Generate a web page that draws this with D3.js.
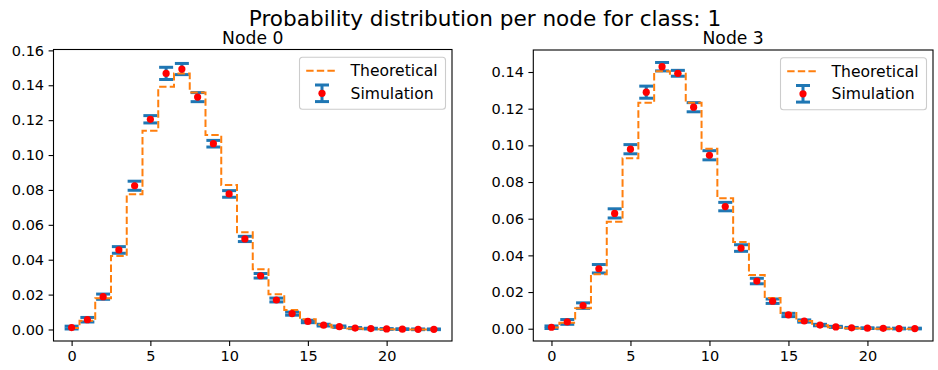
<!DOCTYPE html>
<html>
<head>
<meta charset="utf-8">
<script src="https://cdn.jsdelivr.net/npm/d3@7"></script>
<style>
  body { margin: 0; background: #fff; }
  svg { display: block; font-family: "DejaVu Sans", sans-serif; }
</style>
</head>
<body>
<div id="chart"></div>
<script>
// states on the x axis
const states = [0, 1, 2, 3, 4, 5, 6, 7, 8, 9, 10, 11, 12, 13, 14, 15, 16, 17, 18, 19, 20, 21, 22, 23];

// Node 0
const theoNode0 = [0.0009, 0.0050, 0.0179, 0.0421, 0.0775, 0.1139, 0.1391, 0.1468, 0.1359, 0.1115, 0.0828, 0.0557,
                   0.0345, 0.0202, 0.0112, 0.0058, 0.0027, 0.0012, 0.0005, 0.0002, 0.0001, 0.00004, 0.00001, 0.0];
const simNode0 = [0.0011, 0.0056, 0.0188, 0.0456, 0.0824, 0.1205, 0.1468, 0.1493, 0.1332, 0.1065, 0.0777, 0.0519,
                  0.0308, 0.0169, 0.0091, 0.0046, 0.0025, 0.0016, 0.0008, 0.0005, 0.0003, 0.0002, 0.0001, 0.0001];
const errNode0 = [0.0008, 0.0013, 0.0015, 0.0019, 0.0026, 0.0021, 0.0035, 0.0032, 0.0026, 0.0019, 0.0019, 0.0015,
                  0.0013, 0.0011, 0.0009, 0.0007, 0.0005, 0.0004, 0.0003, 0.0002, 0.0002, 0.0002, 0.0002, 0.0002];

// Node 3
const theoNode3 = [0.0006, 0.0033, 0.0111, 0.0297, 0.0584, 0.0930, 0.1233, 0.1404, 0.1390, 0.1233, 0.0982, 0.0711,
                   0.0473, 0.0293, 0.0167, 0.0086, 0.0042, 0.0019, 0.0008, 0.0003, 0.0001, 0.00004, 0.00001, 0.0];
const simNode3 = [0.0008, 0.0037, 0.0126, 0.0327, 0.0629, 0.0979, 0.1290, 0.1429, 0.1393, 0.1208, 0.0946, 0.0666,
                  0.0440, 0.0260, 0.0150, 0.0075, 0.0042, 0.0020, 0.0010, 0.0005, 0.0003, 0.0002, 0.0001, 0.0001];
const errNode3 = [0.0007, 0.0013, 0.0015, 0.0023, 0.0025, 0.0025, 0.0033, 0.0023, 0.0016, 0.0025, 0.0025, 0.0023,
                  0.0018, 0.0015, 0.0012, 0.0009, 0.0006, 0.0004, 0.0003, 0.0002, 0.0002, 0.0002, 0.0002, 0.0002];

// ticks
const xTicks = [0, 5, 10, 15, 20];
const yTicksNode0 = [0, 0.02, 0.04, 0.06, 0.08, 0.10, 0.12, 0.14, 0.16];
const yTicksNode3 = [0, 0.02, 0.04, 0.06, 0.08, 0.10, 0.12, 0.14];

const legendLabels = ["Theoretical", "Simulation"];

const BLUE = "#1f77b4", ORANGE = "#ff7f0e";

const svg = d3.select("#chart")
    .append("svg")
    .attr("width", 938)
    .attr("height", 370);

svg.append("rect").attr("width", 938).attr("height", 370).attr("fill", "#fff");

svg.append("text")
    .attr("x", 485)
    .attr("y", 26)
    .attr("text-anchor", "middle")
    .style("font-size", "21.6px")
    .text("Probability distribution per node for class: 1");

const panels = [
    {title: "Node 0", theo: theoNode0, sim: simNode0, err: errNode0, yTicks: yTicksNode0,
     yDomain: [-0.0066, 0.1605], left: 53.5, right: 452, top: 49.5, bottom: 341},
    {title: "Node 3", theo: theoNode3, sim: simNode3, err: errNode3, yTicks: yTicksNode3,
     yDomain: [-0.0067, 0.1520], left: 533.3, right: 933, top: 50, bottom: 341}
];

panels.forEach(drawPanel);

function drawPanel(p) {
    const g = svg.append("g");

    const x = d3.scaleLinear()
        .domain([-1.15, 24.15])
        .range([p.left, p.right]);
    const y = d3.scaleLinear()
        .domain(p.yDomain)
        .range([p.bottom, p.top]);

    // error bars (vertical lines)
    const cap = 7;
    g.selectAll("line.ebar")
        .data(states)
        .enter().append("line")
        .attr("class", "ebar")
        .attr("x1", d => x(d)).attr("x2", d => x(d))
        .attr("y1", (d, i) => y(p.sim[i] - p.err[i]))
        .attr("y2", (d, i) => y(p.sim[i] + p.err[i]))
        .attr("stroke", BLUE)
        .attr("stroke-width", 3);

    // caps
    ["lo", "hi"].forEach(k => {
        g.selectAll("line.cap-" + k)
            .data(states)
            .enter().append("line")
            .attr("class", "cap-" + k)
            .attr("x1", d => x(d) - cap).attr("x2", d => x(d) + cap)
            .attr("y1", (d, i) => y(k === "lo" ? p.sim[i] - p.err[i] : p.sim[i] + p.err[i]))
            .attr("y2", (d, i) => y(k === "lo" ? p.sim[i] - p.err[i] : p.sim[i] + p.err[i]))
            .attr("stroke", BLUE)
            .attr("stroke-width", 3);
    });

    // theoretical step line (steps-mid)
    const line = d3.line()
        .x(d => x(d))
        .y((d, i) => y(p.theo[i]))
        .curve(d3.curveStep);

    g.append("path")
        .datum(states)
        .attr("d", line)
        .attr("fill", "none")
        .attr("stroke", ORANGE)
        .attr("stroke-width", 2)
        .attr("stroke-dasharray", "7.4,3.2");

    // red markers
    g.selectAll("circle.pt")
        .data(states)
        .enter().append("circle")
        .attr("class", "pt")
        .attr("cx", d => x(d))
        .attr("cy", (d, i) => y(p.sim[i]))
        .attr("r", 3.6)
        .attr("fill", "red");

    // axes
    const xAxis = g.append("g")
        .attr("transform", `translate(0,${p.bottom})`)
        .call(d3.axisBottom(x).tickValues(xTicks).tickSize(4.9).tickPadding(4.5).tickSizeOuter(0));
    const yAxis = g.append("g")
        .attr("transform", `translate(${p.left},0)`)
        .call(d3.axisLeft(y).tickValues(p.yTicks).tickFormat(d3.format(".2f"))
            .tickSize(4.9).tickPadding(4.5).tickSizeOuter(0));

    [xAxis, yAxis].forEach(a => {
        a.select(".domain").remove();
        a.selectAll("line").attr("stroke", "#000").attr("stroke-width", 1.1);
        a.selectAll("text").style("font-size", "14.5px").attr("fill", "#000")
            .style("font-family", "DejaVu Sans, sans-serif");
    });

    // frame
    g.append("rect")
        .attr("x", p.left).attr("y", p.top)
        .attr("width", p.right - p.left).attr("height", p.bottom - p.top)
        .attr("fill", "none")
        .attr("stroke", "#000")
        .attr("stroke-width", 1.1);

    // subplot title
    g.append("text")
        .attr("x", (p.left + p.right) / 2)
        .attr("y", 44)
        .attr("text-anchor", "middle")
        .style("font-size", "17.2px")
        .text(p.title);

    // legend
    const lw = 146, lh = 52;
    const lx = p.right - 6.5 - lw, ly = p.top + 7.8;
    const lg = g.append("g").attr("transform", `translate(${lx},${ly})`);
    lg.append("rect")
        .attr("width", lw).attr("height", lh)
        .attr("rx", 3)
        .attr("fill", "rgba(255,255,255,0.8)")
        .attr("stroke", "#cccccc")
        .attr("stroke-width", 1.1);

    lg.append("line")
        .attr("x1", 6.7).attr("x2", 38.3)
        .attr("y1", 13.4).attr("y2", 13.4)
        .attr("stroke", ORANGE)
        .attr("stroke-width", 2)
        .attr("stroke-dasharray", "7.4,3.2");

    const hx = 22.5, hy = 36;
    lg.append("line").attr("x1", hx).attr("x2", hx).attr("y1", hy - 8.3).attr("y2", hy + 8.3)
        .attr("stroke", BLUE).attr("stroke-width", 3);
    [hy - 8.3, hy + 8.3].forEach(cy => {
        lg.append("line").attr("x1", hx - 7).attr("x2", hx + 7).attr("y1", cy).attr("y2", cy)
            .attr("stroke", BLUE).attr("stroke-width", 3);
    });
    lg.append("circle").attr("cx", hx).attr("cy", hy).attr("r", 3.6).attr("fill", "red");

    lg.selectAll("text.lbl")
        .data(legendLabels)
        .enter().append("text")
        .attr("class", "lbl")
        .attr("x", 51)
        .attr("y", (d, i) => 13.4 + i * 22.6)
        .attr("dy", "0.36em")
        .style("font-size", "15.6px")
        .text(d => d);
}
</script>
</body>
</html>
